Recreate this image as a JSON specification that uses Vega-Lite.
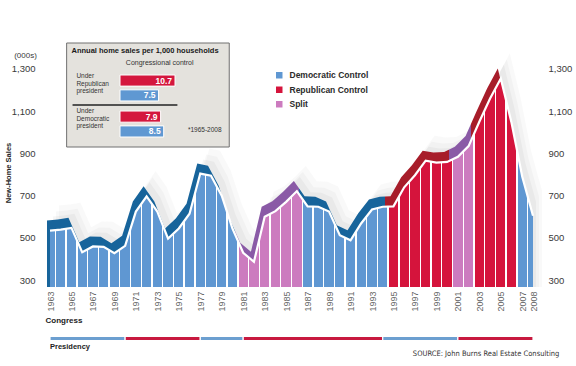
{
"$schema": "https://vega.github.io/schema/vega-lite/v6.json",
"width": 493,
"height": 229,
"autosize": {"type": "none"},
"padding": {"left": 45, "top": 58, "right": 38, "bottom": 79},
"background": "#ffffff",
"config": {"view": {"stroke": null}, "font": "Liberation Sans"},
"datasets": {
"sales": [
{"year":1963,"sales":535,"congress":"Democratic Control"},
{"year":1964,"sales":540,"congress":"Democratic Control"},
{"year":1965,"sales":548,"congress":"Democratic Control"},
{"year":1966,"sales":433,"congress":"Democratic Control"},
{"year":1967,"sales":460,"congress":"Democratic Control"},
{"year":1968,"sales":458,"congress":"Democratic Control"},
{"year":1969,"sales":428,"congress":"Democratic Control"},
{"year":1970,"sales":463,"congress":"Democratic Control"},
{"year":1971,"sales":625,"congress":"Democratic Control"},
{"year":1972,"sales":697,"congress":"Democratic Control"},
{"year":1973,"sales":625,"congress":"Democratic Control"},
{"year":1974,"sales":497,"congress":"Democratic Control"},
{"year":1975,"sales":545,"congress":"Democratic Control"},
{"year":1976,"sales":615,"congress":"Democratic Control"},
{"year":1977,"sales":805,"congress":"Democratic Control"},
{"year":1978,"sales":795,"congress":"Democratic Control"},
{"year":1979,"sales":700,"congress":"Democratic Control"},
{"year":1980,"sales":545,"congress":"Democratic Control"},
{"year":1981,"sales":430,"congress":"Split"},
{"year":1982,"sales":387,"congress":"Split"},
{"year":1983,"sales":600,"congress":"Split"},
{"year":1984,"sales":627,"congress":"Split"},
{"year":1985,"sales":671,"congress":"Split"},
{"year":1986,"sales":722,"congress":"Split"},
{"year":1987,"sales":650,"congress":"Democratic Control"},
{"year":1988,"sales":648,"congress":"Democratic Control"},
{"year":1989,"sales":625,"congress":"Democratic Control"},
{"year":1990,"sales":513,"congress":"Democratic Control"},
{"year":1991,"sales":489,"congress":"Democratic Control"},
{"year":1992,"sales":570,"congress":"Democratic Control"},
{"year":1993,"sales":635,"congress":"Democratic Control"},
{"year":1994,"sales":648,"congress":"Democratic Control"},
{"year":1995,"sales":650,"congress":"Republican Control"},
{"year":1996,"sales":740,"congress":"Republican Control"},
{"year":1997,"sales":797,"congress":"Republican Control"},
{"year":1998,"sales":866,"congress":"Republican Control"},
{"year":1999,"sales":857,"congress":"Republican Control"},
{"year":2000,"sales":860,"congress":"Republican Control"},
{"year":2001,"sales":884,"congress":"Split"},
{"year":2002,"sales":935,"congress":"Split"},
{"year":2003,"sales":1050,"congress":"Republican Control"},
{"year":2004,"sales":1160,"congress":"Republican Control"},
{"year":2005,"sales":1255,"congress":"Republican Control"},
{"year":2006,"sales":1045,"congress":"Republican Control"},
{"year":2007,"sales":790,"congress":"Democratic Control"},
{"year":2008,"sales":605,"congress":"Democratic Control"}
],
"presidency": [
{"party":"Democratic","from":1963,"to":1970},
{"party":"Republican","from":1970,"to":1977},
{"party":"Democratic","from":1977,"to":1981},
{"party":"Republican","from":1981,"to":1994},
{"party":"Democratic","from":1994,"to":2001},
{"party":"Republican","from":2001,"to":2008}
],
"inset": [
{"president":"Republican president","control":"Republican","rate":10.7},
{"president":"Republican president","control":"Democratic","rate":7.5},
{"president":"Democratic president","control":"Republican","rate":7.9},
{"president":"Democratic president","control":"Democratic","rate":8.5}
]
},
"layer": [
{
"data": {"name": "sales"},
"resolve": {"axis": {"x": "independent", "y": "independent"}},
"layer": [
{"mark": {"type": "area", "fill": "#7a7a7a", "opacity": 0.045, "xOffset": 9, "yOffset": -25},
 "encoding": {"x": {"field": "year", "type": "quantitative", "scale": {"domain": [1963, 2008], "nice": false, "zero": false}, "axis": null},
  "y": {"field": "sales", "type": "quantitative", "scale": {"domain": [268, 1352], "nice": false, "zero": false}, "axis": null},
  "y2": {"datum": 268}}},
{"mark": {"type": "area", "fill": "#7a7a7a", "opacity": 0.055, "xOffset": 6, "yOffset": -19},
 "encoding": {"x": {"field": "year", "type": "quantitative", "scale": {"domain": [1963, 2008], "nice": false, "zero": false}, "axis": null},
  "y": {"field": "sales", "type": "quantitative", "scale": {"domain": [268, 1352], "nice": false, "zero": false}, "axis": null},
  "y2": {"datum": 268}}},
{"mark": {"type": "area", "fill": "#7a7a7a", "opacity": 0.07, "xOffset": 3, "yOffset": -14},
 "encoding": {"x": {"field": "year", "type": "quantitative", "scale": {"domain": [1963, 2008], "nice": false, "zero": false}, "axis": null},
  "y": {"field": "sales", "type": "quantitative", "scale": {"domain": [268, 1352], "nice": false, "zero": false}, "axis": null},
  "y2": {"datum": 268}}},
{"transform": [{"filter": "datum.year > 1963 && datum.year < 2008"}],
 "mark": {"type": "bar", "width": 4},
 "encoding": {"x": {"field": "year", "type": "quantitative", "scale": {"domain": [1963, 2008], "nice": false, "zero": false}, "axis": null},
  "y": {"datum": 300, "type": "quantitative", "scale": {"domain": [268, 1352], "nice": false, "zero": false}, "axis": null},
  "y2": {"datum": 272},
  "color": {"field": "congress", "type": "nominal",
   "scale": {"domain": ["Democratic Control", "Republican Control", "Split"], "range": ["#5f97d2", "#d5143c", "#cc7bbf"]},
   "legend": {"title": null, "orient": "none", "legendX": 230, "legendY": 13, "symbolType": "square", "symbolSize": 42, "symbolStrokeWidth": 0, "labelFontSize": 8.5, "labelFontWeight": "bold", "labelColor": "#2b2b2b", "labelFont": "Liberation Sans", "rowPadding": 5.5, "labelOffset": 6, "padding": 0}}}},
{"mark": {"type": "area", "xOffset": -3, "yOffset": -10,
  "fill": {"gradient": "linear", "x1": 0, "y1": 0, "x2": 1, "y2": 0, "stops": [
   {"offset": 0, "color": "#17649b"}, {"offset": 0.38889, "color": "#17649b"}, {"offset": 0.38889, "color": "#8a5aa6"},
   {"offset": 0.52222, "color": "#8a5aa6"}, {"offset": 0.52222, "color": "#17649b"}, {"offset": 0.7, "color": "#17649b"},
   {"offset": 0.7, "color": "#a71d2a"}, {"offset": 0.83333, "color": "#a71d2a"}, {"offset": 0.83333, "color": "#8a5aa6"},
   {"offset": 0.87778, "color": "#8a5aa6"}, {"offset": 0.87778, "color": "#a71d2a"}, {"offset": 0.96667, "color": "#a71d2a"},
   {"offset": 0.96667, "color": "#17649b"}, {"offset": 1, "color": "#17649b"}]}},
 "encoding": {"x": {"field": "year", "type": "quantitative", "scale": {"domain": [1963, 2008], "nice": false, "zero": false}, "axis": null},
  "y": {"field": "sales", "type": "quantitative", "scale": {"domain": [268, 1352], "nice": false, "zero": false},
   "axis": {"orient": "left", "labels": false, "ticks": false, "domain": false, "grid": false, "title": "(000s)", "titleAngle": 0, "titleX": -20, "titleY": -3, "titleFontSize": 8, "titleFontWeight": "normal", "titleColor": "#3a3a3a", "titleAlign": "center", "titleBaseline": "middle"}},
  "y2": {"datum": 268}}},
{"mark": {"type": "area",
  "fill": {"gradient": "linear", "x1": 0, "y1": 0, "x2": 1, "y2": 0, "stops": [
   {"offset": 0, "color": "#5f97d2"},
   {"offset": 0.00961, "color": "#5f97d2"}, {"offset": 0.00961, "color": "#ffffff"}, {"offset": 0.01261, "color": "#ffffff"}, {"offset": 0.01261, "color": "#5f97d2"},
   {"offset": 0.03183, "color": "#5f97d2"}, {"offset": 0.03183, "color": "#ffffff"}, {"offset": 0.03483, "color": "#ffffff"}, {"offset": 0.03483, "color": "#5f97d2"},
   {"offset": 0.05406, "color": "#5f97d2"}, {"offset": 0.05406, "color": "#ffffff"}, {"offset": 0.05706, "color": "#ffffff"}, {"offset": 0.05706, "color": "#5f97d2"},
   {"offset": 0.07628, "color": "#5f97d2"}, {"offset": 0.07628, "color": "#ffffff"}, {"offset": 0.07928, "color": "#ffffff"}, {"offset": 0.07928, "color": "#5f97d2"},
   {"offset": 0.0985, "color": "#5f97d2"}, {"offset": 0.0985, "color": "#ffffff"}, {"offset": 0.1015, "color": "#ffffff"}, {"offset": 0.1015, "color": "#5f97d2"},
   {"offset": 0.12072, "color": "#5f97d2"}, {"offset": 0.12072, "color": "#ffffff"}, {"offset": 0.12372, "color": "#ffffff"}, {"offset": 0.12372, "color": "#5f97d2"},
   {"offset": 0.14294, "color": "#5f97d2"}, {"offset": 0.14294, "color": "#ffffff"}, {"offset": 0.14594, "color": "#ffffff"}, {"offset": 0.14594, "color": "#5f97d2"},
   {"offset": 0.16517, "color": "#5f97d2"}, {"offset": 0.16517, "color": "#ffffff"}, {"offset": 0.16817, "color": "#ffffff"}, {"offset": 0.16817, "color": "#5f97d2"},
   {"offset": 0.18739, "color": "#5f97d2"}, {"offset": 0.18739, "color": "#ffffff"}, {"offset": 0.19039, "color": "#ffffff"}, {"offset": 0.19039, "color": "#5f97d2"},
   {"offset": 0.20961, "color": "#5f97d2"}, {"offset": 0.20961, "color": "#ffffff"}, {"offset": 0.21261, "color": "#ffffff"}, {"offset": 0.21261, "color": "#5f97d2"},
   {"offset": 0.23183, "color": "#5f97d2"}, {"offset": 0.23183, "color": "#ffffff"}, {"offset": 0.23483, "color": "#ffffff"}, {"offset": 0.23483, "color": "#5f97d2"},
   {"offset": 0.25406, "color": "#5f97d2"}, {"offset": 0.25406, "color": "#ffffff"}, {"offset": 0.25706, "color": "#ffffff"}, {"offset": 0.25706, "color": "#5f97d2"},
   {"offset": 0.27628, "color": "#5f97d2"}, {"offset": 0.27628, "color": "#ffffff"}, {"offset": 0.27928, "color": "#ffffff"}, {"offset": 0.27928, "color": "#5f97d2"},
   {"offset": 0.2985, "color": "#5f97d2"}, {"offset": 0.2985, "color": "#ffffff"}, {"offset": 0.3015, "color": "#ffffff"}, {"offset": 0.3015, "color": "#5f97d2"},
   {"offset": 0.32072, "color": "#5f97d2"}, {"offset": 0.32072, "color": "#ffffff"}, {"offset": 0.32372, "color": "#ffffff"}, {"offset": 0.32372, "color": "#5f97d2"},
   {"offset": 0.34294, "color": "#5f97d2"}, {"offset": 0.34294, "color": "#ffffff"}, {"offset": 0.34594, "color": "#ffffff"}, {"offset": 0.34594, "color": "#5f97d2"},
   {"offset": 0.36517, "color": "#5f97d2"}, {"offset": 0.36517, "color": "#ffffff"}, {"offset": 0.36817, "color": "#ffffff"}, {"offset": 0.36817, "color": "#5f97d2"},
   {"offset": 0.38739, "color": "#5f97d2"}, {"offset": 0.38739, "color": "#ffffff"}, {"offset": 0.39039, "color": "#ffffff"}, {"offset": 0.39039, "color": "#cc7bbf"},
   {"offset": 0.40961, "color": "#cc7bbf"}, {"offset": 0.40961, "color": "#ffffff"}, {"offset": 0.41261, "color": "#ffffff"}, {"offset": 0.41261, "color": "#cc7bbf"},
   {"offset": 0.43183, "color": "#cc7bbf"}, {"offset": 0.43183, "color": "#ffffff"}, {"offset": 0.43483, "color": "#ffffff"}, {"offset": 0.43483, "color": "#cc7bbf"},
   {"offset": 0.45406, "color": "#cc7bbf"}, {"offset": 0.45406, "color": "#ffffff"}, {"offset": 0.45706, "color": "#ffffff"}, {"offset": 0.45706, "color": "#cc7bbf"},
   {"offset": 0.47628, "color": "#cc7bbf"}, {"offset": 0.47628, "color": "#ffffff"}, {"offset": 0.47928, "color": "#ffffff"}, {"offset": 0.47928, "color": "#cc7bbf"},
   {"offset": 0.4985, "color": "#cc7bbf"}, {"offset": 0.4985, "color": "#ffffff"}, {"offset": 0.5015, "color": "#ffffff"}, {"offset": 0.5015, "color": "#cc7bbf"},
   {"offset": 0.52072, "color": "#cc7bbf"}, {"offset": 0.52072, "color": "#ffffff"}, {"offset": 0.52372, "color": "#ffffff"}, {"offset": 0.52372, "color": "#5f97d2"},
   {"offset": 0.54294, "color": "#5f97d2"}, {"offset": 0.54294, "color": "#ffffff"}, {"offset": 0.54594, "color": "#ffffff"}, {"offset": 0.54594, "color": "#5f97d2"},
   {"offset": 0.56517, "color": "#5f97d2"}, {"offset": 0.56517, "color": "#ffffff"}, {"offset": 0.56817, "color": "#ffffff"}, {"offset": 0.56817, "color": "#5f97d2"},
   {"offset": 0.58739, "color": "#5f97d2"}, {"offset": 0.58739, "color": "#ffffff"}, {"offset": 0.59039, "color": "#ffffff"}, {"offset": 0.59039, "color": "#5f97d2"},
   {"offset": 0.60961, "color": "#5f97d2"}, {"offset": 0.60961, "color": "#ffffff"}, {"offset": 0.61261, "color": "#ffffff"}, {"offset": 0.61261, "color": "#5f97d2"},
   {"offset": 0.63183, "color": "#5f97d2"}, {"offset": 0.63183, "color": "#ffffff"}, {"offset": 0.63483, "color": "#ffffff"}, {"offset": 0.63483, "color": "#5f97d2"},
   {"offset": 0.65406, "color": "#5f97d2"}, {"offset": 0.65406, "color": "#ffffff"}, {"offset": 0.65706, "color": "#ffffff"}, {"offset": 0.65706, "color": "#5f97d2"},
   {"offset": 0.67628, "color": "#5f97d2"}, {"offset": 0.67628, "color": "#ffffff"}, {"offset": 0.67928, "color": "#ffffff"}, {"offset": 0.67928, "color": "#5f97d2"},
   {"offset": 0.6985, "color": "#5f97d2"}, {"offset": 0.6985, "color": "#ffffff"}, {"offset": 0.7015, "color": "#ffffff"}, {"offset": 0.7015, "color": "#d5143c"},
   {"offset": 0.72072, "color": "#d5143c"}, {"offset": 0.72072, "color": "#ffffff"}, {"offset": 0.72372, "color": "#ffffff"}, {"offset": 0.72372, "color": "#d5143c"},
   {"offset": 0.74294, "color": "#d5143c"}, {"offset": 0.74294, "color": "#ffffff"}, {"offset": 0.74594, "color": "#ffffff"}, {"offset": 0.74594, "color": "#d5143c"},
   {"offset": 0.76517, "color": "#d5143c"}, {"offset": 0.76517, "color": "#ffffff"}, {"offset": 0.76817, "color": "#ffffff"}, {"offset": 0.76817, "color": "#d5143c"},
   {"offset": 0.78739, "color": "#d5143c"}, {"offset": 0.78739, "color": "#ffffff"}, {"offset": 0.79039, "color": "#ffffff"}, {"offset": 0.79039, "color": "#d5143c"},
   {"offset": 0.80961, "color": "#d5143c"}, {"offset": 0.80961, "color": "#ffffff"}, {"offset": 0.81261, "color": "#ffffff"}, {"offset": 0.81261, "color": "#d5143c"},
   {"offset": 0.83183, "color": "#d5143c"}, {"offset": 0.83183, "color": "#ffffff"}, {"offset": 0.83483, "color": "#ffffff"}, {"offset": 0.83483, "color": "#cc7bbf"},
   {"offset": 0.85406, "color": "#cc7bbf"}, {"offset": 0.85406, "color": "#ffffff"}, {"offset": 0.85706, "color": "#ffffff"}, {"offset": 0.85706, "color": "#cc7bbf"},
   {"offset": 0.87628, "color": "#cc7bbf"}, {"offset": 0.87628, "color": "#ffffff"}, {"offset": 0.87928, "color": "#ffffff"}, {"offset": 0.87928, "color": "#d5143c"},
   {"offset": 0.8985, "color": "#d5143c"}, {"offset": 0.8985, "color": "#ffffff"}, {"offset": 0.9015, "color": "#ffffff"}, {"offset": 0.9015, "color": "#d5143c"},
   {"offset": 0.92072, "color": "#d5143c"}, {"offset": 0.92072, "color": "#ffffff"}, {"offset": 0.92372, "color": "#ffffff"}, {"offset": 0.92372, "color": "#d5143c"},
   {"offset": 0.94294, "color": "#d5143c"}, {"offset": 0.94294, "color": "#ffffff"}, {"offset": 0.94594, "color": "#ffffff"}, {"offset": 0.94594, "color": "#d5143c"},
   {"offset": 0.96517, "color": "#d5143c"}, {"offset": 0.96517, "color": "#ffffff"}, {"offset": 0.96817, "color": "#ffffff"}, {"offset": 0.96817, "color": "#5f97d2"},
   {"offset": 0.98739, "color": "#5f97d2"}, {"offset": 0.98739, "color": "#ffffff"}, {"offset": 0.99039, "color": "#ffffff"}, {"offset": 0.99039, "color": "#5f97d2"},
   {"offset": 1, "color": "#5f97d2"}]}},
 "encoding": {"x": {"field": "year", "type": "quantitative", "scale": {"domain": [1963, 2008], "nice": false, "zero": false},
   "axis": {"orient": "bottom", "values": [1963,1965,1967,1969,1971,1973,1975,1977,1979,1981,1983,1985,1987,1989,1991,1993,1995,1997,1999,2001,2003,2005,2007,2008], "format": "d", "labelAngle": -90, "labelAlign": "right", "labelBaseline": "middle", "labelPadding": 4, "labelFontSize": 9, "labelColor": "#666666", "labelOverlap": false, "labelFlush": false, "ticks": false, "domain": false, "grid": false, "title": "Congress", "titleFontSize": 8, "titleFontWeight": "bold", "titleColor": "#222222", "titleX": 0, "titleY": 33, "titleAlign": "left", "titleBaseline": "middle", "titleAnchor": "start"}},
  "y": {"field": "sales", "type": "quantitative", "scale": {"domain": [268, 1352], "nice": false, "zero": false},
   "axis": {"orient": "left", "values": [300, 500, 700, 900, 1100, 1300], "format": ",d", "ticks": false, "domain": false, "grid": false, "labelPadding": 10, "labelFontSize": 9.5, "labelColor": "#3a3a3a", "title": "New-Home Sales", "titleFontSize": 7.5, "titleFontWeight": "bold", "titleColor": "#222222", "titleX": -37, "titleY": 114.5, "titleAngle": 270, "titleAlign": "center", "titleBaseline": "middle"}},
  "y2": {"datum": 268}}},
{"mark": {"type": "line", "stroke": "#ffffff", "strokeWidth": 2.2},
 "encoding": {"x": {"field": "year", "type": "quantitative", "scale": {"domain": [1963, 2008], "nice": false, "zero": false}, "axis": null},
  "y": {"field": "sales", "type": "quantitative", "scale": {"domain": [268, 1352], "nice": false, "zero": false},
   "axis": {"orient": "right", "values": [300, 500, 700, 900, 1100, 1300], "format": ",d", "ticks": false, "domain": false, "grid": false, "labelPadding": 10, "labelFontSize": 9.5, "labelColor": "#3a3a3a", "title": null}}}},
{"data": {"name": "presidency"},
 "mark": {"type": "rect", "stroke": "#ffffff", "strokeWidth": 1.2},
 "encoding": {"x": {"field": "from", "type": "quantitative", "scale": {"domain": [1963, 2008], "nice": false, "zero": false}, "axis": null},
  "x2": {"field": "to"},
  "y": {"datum": 33.7, "type": "quantitative", "scale": {"domain": [268, 1352], "nice": false, "zero": false}, "axis": null},
  "y2": {"datum": 14.8},
  "fill": {"field": "party", "type": "nominal", "scale": {"domain": ["Democratic", "Republican"], "range": ["#6c9fd0", "#c8193f"]}, "legend": null}}},
{"data": {"values": [{}]},
 "mark": {"type": "rect", "fill": "#e4e2dd", "stroke": "#707070", "strokeWidth": 1},
 "encoding": {"x": {"datum": 1964.55, "type": "quantitative", "scale": {"domain": [1963, 2008], "nice": false, "zero": false}, "axis": null},
  "x2": {"datum": 1979.7},
  "y": {"datum": 1423, "type": "quantitative", "scale": {"domain": [268, 1352], "nice": false, "zero": false}, "axis": null},
  "y2": {"datum": 930.7}}},
{"data": {"values": [{}]},
 "mark": {"type": "text", "text": "Annual home sales per 1,000 households", "align": "left", "baseline": "middle", "fontSize": 7.5, "fontWeight": "bold", "fill": "#1a1a1a"},
 "encoding": {"x": {"datum": 1965.0, "type": "quantitative", "scale": {"domain": [1963, 2008], "nice": false, "zero": false}, "axis": null},
  "y": {"datum": 1386.6, "type": "quantitative", "scale": {"domain": [268, 1352], "nice": false, "zero": false}, "axis": null}}},
{"data": {"values": [{}]},
 "mark": {"type": "text", "text": "Congressional control", "align": "center", "baseline": "middle", "fontSize": 7, "fill": "#333333"},
 "encoding": {"x": {"datum": 1973.22, "type": "quantitative", "scale": {"domain": [1963, 2008], "nice": false, "zero": false}, "axis": null},
  "y": {"datum": 1326.9, "type": "quantitative", "scale": {"domain": [268, 1352], "nice": false, "zero": false}, "axis": null}}},
{"data": {"values": [{}]},
 "mark": {"type": "text", "text": "Under Republican president", "lineBreak": " ", "lineHeight": 7.6, "align": "left", "baseline": "top", "fontSize": 6.5, "fill": "#333333"},
 "encoding": {"x": {"datum": 1965.46, "type": "quantitative", "scale": {"domain": [1963, 2008], "nice": false, "zero": false}, "axis": null},
  "y": {"datum": 1281, "type": "quantitative", "scale": {"domain": [268, 1352], "nice": false, "zero": false}, "axis": null}}},
{"data": {"values": [{}]},
 "mark": {"type": "text", "text": "Under Democratic president", "lineBreak": " ", "lineHeight": 7.6, "align": "left", "baseline": "top", "fontSize": 6.5, "fill": "#333333"},
 "encoding": {"x": {"datum": 1965.46, "type": "quantitative", "scale": {"domain": [1963, 2008], "nice": false, "zero": false}, "axis": null},
  "y": {"datum": 1115.3, "type": "quantitative", "scale": {"domain": [268, 1352], "nice": false, "zero": false}, "axis": null}}},
{"data": {"values": [{}]},
 "mark": {"type": "rule", "stroke": "#222222", "strokeWidth": 1.6},
 "encoding": {"x": {"datum": 1965.1, "type": "quantitative", "scale": {"domain": [1963, 2008], "nice": false, "zero": false}, "axis": null},
  "x2": {"datum": 1974.87},
  "y": {"datum": 1129.5, "type": "quantitative", "scale": {"domain": [268, 1352], "nice": false, "zero": false}, "axis": null}}},
{"data": {"values": [{}]},
 "mark": {"type": "text", "text": "*1965-2008", "align": "center", "baseline": "middle", "fontSize": 6.5, "fill": "#333333"},
 "encoding": {"x": {"datum": 1977.42, "type": "quantitative", "scale": {"domain": [1963, 2008], "nice": false, "zero": false}, "axis": null},
  "y": {"datum": 1013.5, "type": "quantitative", "scale": {"domain": [268, 1352], "nice": false, "zero": false}, "axis": null}}},
{"data": {"values": [{}]},
 "mark": {"type": "text", "text": "Presidency", "align": "left", "baseline": "middle", "fontSize": 7.5, "fontWeight": "bold", "fill": "#222222"},
 "encoding": {"x": {"datum": 1963, "type": "quantitative", "scale": {"domain": [1963, 2008], "nice": false, "zero": false}, "axis": null},
  "y": {"datum": -16, "type": "quantitative", "scale": {"domain": [268, 1352], "nice": false, "zero": false}, "axis": null}}},
{"data": {"values": [{}]},
 "mark": {"type": "text", "text": "SOURCE: John Burns Real Estate Consulting", "align": "right", "baseline": "middle", "fontSize": 7.5, "font": "'DejaVu Sans Condensed', 'Liberation Sans'", "fill": "#333333"},
 "encoding": {"x": {"datum": 2010.46, "type": "quantitative", "scale": {"domain": [1963, 2008], "nice": false, "zero": false}, "axis": null},
  "y": {"datum": -49, "type": "quantitative", "scale": {"domain": [268, 1352], "nice": false, "zero": false}, "axis": null}}}
]
},
{
"data": {"name": "inset"},
"layer": [
{"mark": {"type": "bar", "stroke": "#ffffff", "strokeWidth": 1},
 "encoding": {"x": {"field": "rate", "type": "quantitative", "scale": {"domain": [0, 10.7], "range": [75, 130], "nice": false}, "axis": null},
  "y": {"field": "president", "type": "nominal", "scale": {"domain": ["Republican president", "Democratic president"], "range": [17, 79], "paddingInner": 0.28, "paddingOuter": 0}, "axis": null},
  "yOffset": {"field": "control", "type": "nominal", "scale": {"domain": ["Republican", "Democratic"], "paddingInner": 0.25, "paddingOuter": 0}},
  "fill": {"field": "control", "type": "nominal", "scale": {"domain": ["Republican", "Democratic"], "range": ["#d4173e", "#5f98d2"]}, "legend": null}}},
{"mark": {"type": "text", "align": "right", "baseline": "middle", "dx": -3, "fontSize": 8.5, "fontWeight": "bold", "fill": "#ffffff"},
 "encoding": {"x": {"field": "rate", "type": "quantitative", "scale": {"domain": [0, 10.7], "range": [75, 130], "nice": false}, "axis": null},
  "y": {"field": "president", "type": "nominal", "scale": {"domain": ["Republican president", "Democratic president"], "range": [17, 79], "paddingInner": 0.28, "paddingOuter": 0}, "axis": null},
  "yOffset": {"field": "control", "type": "nominal", "scale": {"domain": ["Republican", "Democratic"], "paddingInner": 0.25, "paddingOuter": 0}},
  "text": {"field": "rate", "type": "quantitative", "format": ".1f"}}}
]
}
],
"resolve": {"scale": {"x": "independent", "y": "independent", "fill": "independent"}}
}
